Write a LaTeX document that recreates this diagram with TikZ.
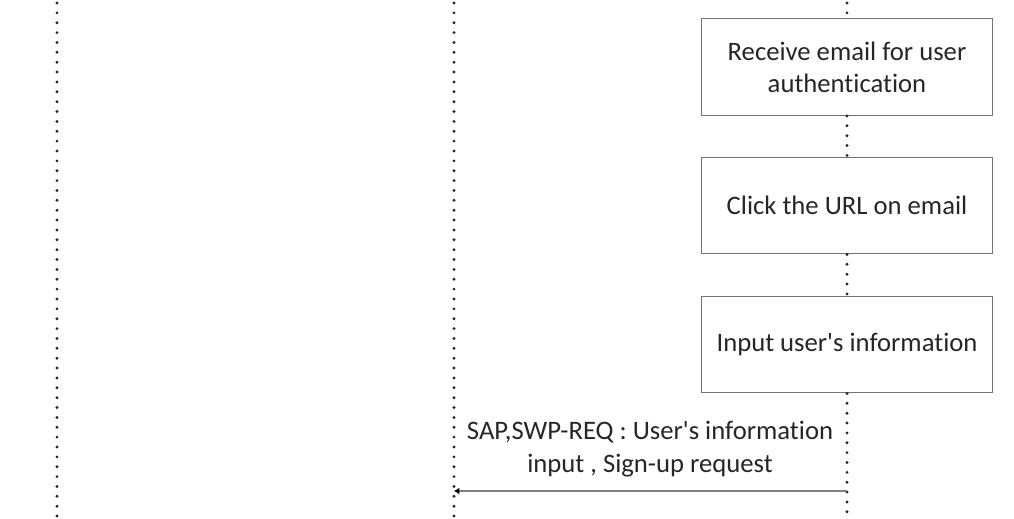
\documentclass[tikz,border=0pt]{standalone}
\usepackage{fontspec}
\setmainfont{Carlito}[Ligatures={TeXOff,NoCommon}]
\usetikzlibrary{arrows.meta}

\begin{document}
\begin{tikzpicture}
	[
	x=0.75pt, y=-0.75pt,
	box/.style={
		draw=black!55,
		line width=0.9pt,
		align=center,
		minimum height=72.5pt,
		minimum width=218pt,
		inner sep=0pt,
		font=\fontsize{20}{24}\selectfont,
		text=black!85
	},
	lifeline/.style={
		line width=2.4pt,
		line cap=round,
		dash pattern=on 0pt off 7.4pt,
		black!85
	},
	message/.style={
		-{Latex[length=4pt,width=5pt,black]},
		draw=black!50,
		line width=1.3pt
	}
	]
	
	\useasboundingbox (0,0) rectangle (1014,518);
	
	% lifeline ends
	\coordinate (user_top) at (57,3);
	\coordinate (user_bot) at (57,518);
	\coordinate (server_top) at (454,3);
	\coordinate (server_bot) at (454,518);
	\coordinate (client_top) at (847,3);
	\coordinate (client_bot) at (847,518);
	
	% client steps
	\node[box] (receive_email) at (847,67)
	{Receive email for user\\authentication};
	
	\node[box] (click_url) at (847,205.5)
	{Click the URL on email};
	
	\node[box] (input_info) at (847,344.5)
	{Input user's information};
	
	% message to server
	\coordinate (msg_from) at (847,491);
	\coordinate (msg_to) at (454,491);
	
	\node[align=center, font=\fontsize{20}{24.5}\selectfont, text=black!85] (sign_up_label) at (650,449)
	{SAP,SWP-REQ : User's information\\input , Sign-up request};
	
	% lifelines
	\draw[lifeline] (user_top) -- (user_bot);
	\draw[lifeline] (server_top) -- (server_bot);
	\draw[lifeline] (client_top) -- (receive_email.north);
	\draw[lifeline] (receive_email.south) -- (click_url.north);
	\draw[lifeline] (click_url.south) -- (input_info.north);
	\draw[lifeline] (input_info.south) -- (client_bot);
	
	% arrows
	\draw[message] (msg_from) -- (msg_to);
	
\end{tikzpicture}
\end{document}
